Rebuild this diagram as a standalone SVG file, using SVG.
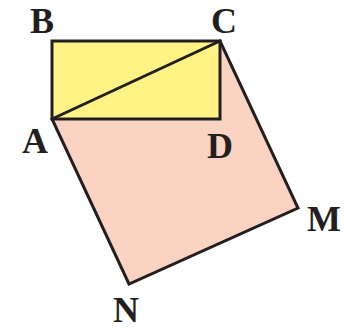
<svg xmlns="http://www.w3.org/2000/svg" width="345" height="331" viewBox="0 0 345 331">
<style>
.lbl{font-family:"Liberation Serif","Times New Roman",serif;font-weight:bold;font-size:36px;fill:#231f20}
.edge{fill:none;stroke:#231f20;stroke-width:3;stroke-linejoin:miter}
</style>
<rect width="345" height="331" fill="#ffffff"/>
<g id="square-ACMN">
<polygon points="52,119 220,41 298,208 129,284" fill="#fbd3c2" stroke="#231f20" stroke-width="3" stroke-linejoin="miter"/>
</g>
<g id="rectangle-ABCD">
<rect x="52" y="41" width="168" height="78" fill="#fff385" stroke="#231f20" stroke-width="3"/>
</g>
<g id="connectors">
<line class="edge" x1="52" y1="119" x2="220" y2="41"/>
</g>
<g id="label-B"><text class="lbl" x="30" y="33">B</text></g>
<g id="label-C"><text class="lbl" x="211" y="33">C</text></g>
<g id="label-A"><text class="lbl" x="22" y="153">A</text></g>
<g id="label-D"><text class="lbl" x="207" y="158">D</text></g>
<g id="label-M"><text class="lbl" x="307" y="231">M</text></g>
<g id="label-N"><text class="lbl" x="113" y="322">N</text></g>
</svg>
